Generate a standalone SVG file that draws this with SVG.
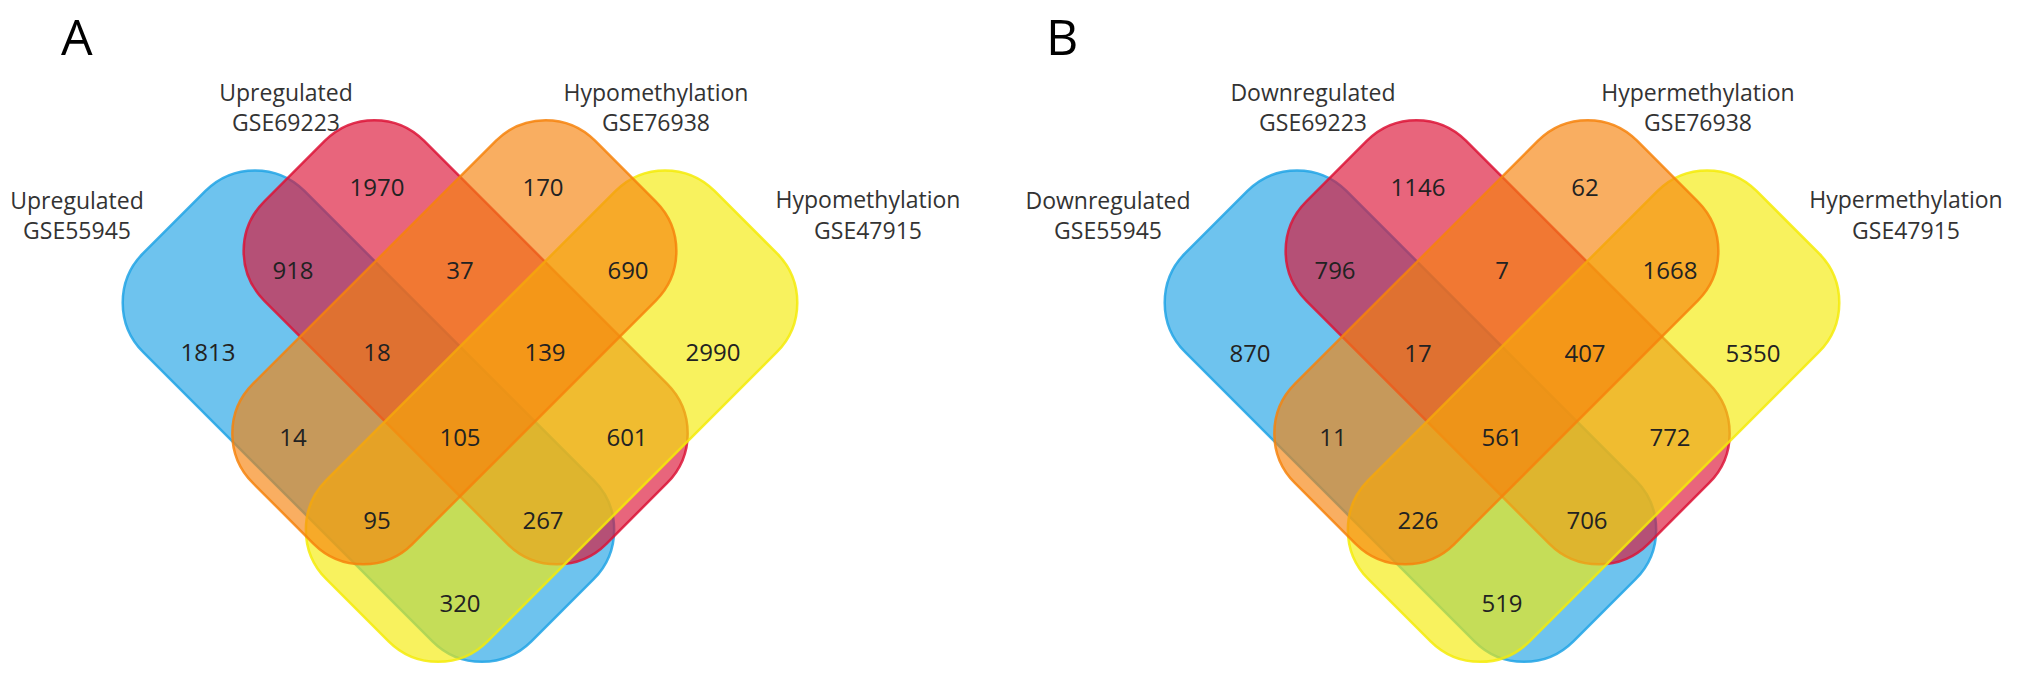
<svg xmlns="http://www.w3.org/2000/svg" width="2031" height="681" viewBox="0 0 2031 681">
<style>
.set{stroke-width:2.5;fill-opacity:0.65;stroke-opacity:0.85}
.blue{fill:#20A3E5;stroke:#20A3E5}
.red{fill:#DC1336;stroke:#DC1336}
.yellow{fill:#F4EB08;stroke:#F4EB08}
.orange{fill:#F6820C;stroke:#F6820C}
.lbl{font-family:"Open Sans","Noto Sans","Liberation Sans",sans-serif;font-size:23px;fill:#333;text-anchor:middle}
.num{font-family:"Open Sans","Noto Sans","Liberation Sans",sans-serif;font-size:24px;fill:#222;text-anchor:middle}
.panel{font-family:"Open Sans","Noto Sans","Liberation Sans",sans-serif;font-size:50px;fill:#000}
</style>
<rect width="2031" height="681" fill="#fff"/>
<text class="panel" x="61" y="55">A</text>
<text class="panel" x="1046" y="55">B</text>

<g id="panelA">
  <g transform="translate(460,437) rotate(-45)">
    <rect id="A-blue" class="set blue" x="-164" y="-354" width="228" height="549" rx="70"/>
    <rect id="A-red" class="set red" x="-42" y="-305" width="226" height="484" rx="70"/>
    <rect id="A-yellow" class="set yellow" x="-195" y="-64" width="549" height="228" rx="70"/>
    <rect id="A-orange" class="set orange" x="-179" y="-184" width="484" height="226" rx="70"/>
  </g>
  <g id="A-blue-label"><text class="lbl" x="77" y="209">Upregulated</text><text class="lbl" x="77" y="239">GSE55945</text></g>
  <g id="A-red-label"><text class="lbl" x="286" y="101">Upregulated</text><text class="lbl" x="286" y="131">GSE69223</text></g>
  <g id="A-orange-label"><text class="lbl" x="656" y="101">Hypomethylation</text><text class="lbl" x="656" y="131">GSE76938</text></g>
  <g id="A-yellow-label"><text class="lbl" x="868" y="208">Hypomethylation</text><text class="lbl" x="868" y="239">GSE47915</text></g>
  <g id="A-counts">
    <text class="num" x="377" y="196">1970</text>
    <text class="num" x="543" y="196">170</text>
    <text class="num" x="293" y="279">918</text>
    <text class="num" x="460" y="279">37</text>
    <text class="num" x="628" y="279">690</text>
    <text class="num" x="208" y="361">1813</text>
    <text class="num" x="377" y="361">18</text>
    <text class="num" x="545" y="361">139</text>
    <text class="num" x="713" y="361">2990</text>
    <text class="num" x="293" y="446">14</text>
    <text class="num" x="460" y="446">105</text>
    <text class="num" x="627" y="446">601</text>
    <text class="num" x="377" y="529">95</text>
    <text class="num" x="543" y="529">267</text>
    <text class="num" x="460" y="612">320</text>
  </g>
</g>

<g id="panelB" transform="translate(1042,0)">
  <g transform="translate(460,437) rotate(-45)">
    <rect id="B-blue" class="set blue" x="-164" y="-354" width="228" height="549" rx="70"/>
    <rect id="B-red" class="set red" x="-42" y="-305" width="226" height="484" rx="70"/>
    <rect id="B-yellow" class="set yellow" x="-195" y="-64" width="549" height="228" rx="70"/>
    <rect id="B-orange" class="set orange" x="-179" y="-184" width="484" height="226" rx="70"/>
  </g>
  <g id="B-blue-label"><text class="lbl" x="66" y="209">Downregulated</text><text class="lbl" x="66" y="239">GSE55945</text></g>
  <g id="B-red-label"><text class="lbl" x="271" y="101">Downregulated</text><text class="lbl" x="271" y="131">GSE69223</text></g>
  <g id="B-orange-label"><text class="lbl" x="656" y="101">Hypermethylation</text><text class="lbl" x="656" y="131">GSE76938</text></g>
  <g id="B-yellow-label"><text class="lbl" x="864" y="208">Hypermethylation</text><text class="lbl" x="864" y="239">GSE47915</text></g>
  <g id="B-counts">
    <text class="num" x="376" y="196">1146</text>
    <text class="num" x="543" y="196">62</text>
    <text class="num" x="293" y="279">796</text>
    <text class="num" x="460" y="279">7</text>
    <text class="num" x="628" y="279">1668</text>
    <text class="num" x="208" y="362">870</text>
    <text class="num" x="376" y="362">17</text>
    <text class="num" x="543" y="362">407</text>
    <text class="num" x="711" y="362">5350</text>
    <text class="num" x="291" y="446">11</text>
    <text class="num" x="460" y="446">561</text>
    <text class="num" x="628" y="446">772</text>
    <text class="num" x="376" y="529">226</text>
    <text class="num" x="545" y="529">706</text>
    <text class="num" x="460" y="612">519</text>
  </g>
</g>
<g id="connectors"/>
</svg>
